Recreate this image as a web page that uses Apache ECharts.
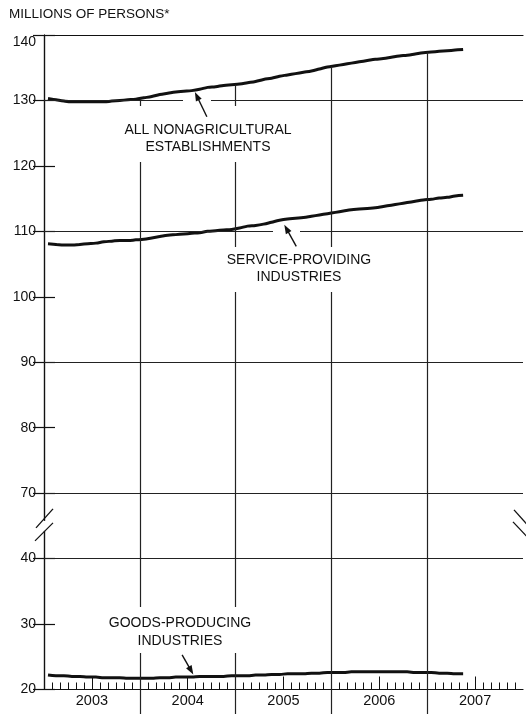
<!DOCTYPE html>
<html><head><meta charset="utf-8">
<script src="https://cdn.jsdelivr.net/npm/echarts@6/dist/echarts.min.js"></script>
<style>html,body{margin:0;padding:0;background:#fff}#c{width:526px;height:714px}</style>
</head><body><div id="c"></div>
<script>
// ---------- data ----------
const yearLabels = ['2003', '2004', '2005', '2006', '2007'];
const monthLabels = [];
for (let y = 2003; y <= 2007; y++) for (let m = 1; m <= 12; m++) monthLabels.push(y + '-' + (m < 10 ? '0' : '') + m);
// monthly values, Jan 2003 .. May 2007 (millions of persons)
const allNonag = [
  130.3, 130.1, 129.9, 129.8, 129.8, 129.8, 129.8, 129.8, 129.9, 130.0, 130.1, 130.2,
  130.4, 130.6, 130.9, 131.1, 131.3, 131.4, 131.5, 131.7, 132.0, 132.1, 132.3, 132.4,
  132.5, 132.7, 132.9, 133.2, 133.4, 133.7, 133.9, 134.1, 134.3, 134.5, 134.8, 135.1,
  135.3, 135.5, 135.7, 135.9, 136.1, 136.3, 136.4, 136.6, 136.8, 136.9, 137.1, 137.3,
  137.4, 137.5, 137.6, 137.7, 137.8
];
const serviceProviding = [
  108.1, 108.0, 107.9, 107.9, 108.0, 108.1, 108.2, 108.4, 108.5, 108.6, 108.6, 108.7,
  108.8, 109.0, 109.2, 109.4, 109.5, 109.6, 109.7, 109.8, 110.0, 110.1, 110.2, 110.3,
  110.5, 110.8, 110.9, 111.1, 111.4, 111.7, 111.9, 112.0, 112.1, 112.3, 112.5, 112.7,
  112.9, 113.1, 113.3, 113.4, 113.5, 113.6, 113.8, 114.0, 114.2, 114.4, 114.6, 114.8,
  114.9, 115.1, 115.2, 115.4, 115.5
];
const goodsProducing = [
  22.2, 22.1, 22.1, 22.0, 22.0, 21.9, 21.9, 21.8, 21.8, 21.8, 21.7, 21.7,
  21.7, 21.7, 21.8, 21.8, 21.9, 21.9, 21.9, 22.0, 22.0, 22.0, 22.0, 22.1,
  22.1, 22.1, 22.2, 22.2, 22.3, 22.3, 22.4, 22.4, 22.4, 22.5, 22.5, 22.6,
  22.6, 22.6, 22.7, 22.7, 22.7, 22.7, 22.7, 22.7, 22.7, 22.7, 22.6, 22.6,
  22.6, 22.5, 22.5, 22.4, 22.4
];
const yTickValues = [20, 30, 40, 70, 80, 90, 100, 110, 120, 130, 140];
const gridlineValues = [130, 110, 90, 70, 40];
const yearBoundaries = [12, 24, 36, 48];
const midYears = [6, 18, 30, 42, 54];
// annotation anchors: [month coordinate, value]
const arrowAll = { tail: [20.4, 127.5], tip: [18.9, 131.3] };
const arrowService = { tail: [31.6, 107.7], tip: [30.1, 111.0] };
const arrowGoods = { tail: [17.3, 25.3], tip: [18.7, 22.3] };

// ---------- axis break (40 .. 70 shown as one 10-unit step) ----------
const breakLow = 40, breakHigh = 70;
const BREAK_SHIFT = breakHigh - breakLow - 10;
function toAxis(v) { return v <= breakLow ? v + BREAK_SHIFT : v; }
function fromAxis(t) { return t <= breakLow + BREAK_SHIFT ? t - BREAK_SHIFT : t; }

const FONT = 'Liberation Sans';
const INK = '#111';
const monthTicks = [];
for (let i = 1; i < 60; i++) if (i % 12 !== 0) monthTicks.push(i);

const chart = echarts.init(document.getElementById('c'), null, { renderer: 'canvas' });
const G = { left: 44, right: 3, top: 35, bottom: 24.5, containLabel: false, outerBoundsMode: 'none' };
const hiddenY = (gi) => ({ gridIndex: gi, type: 'value', min: toAxis(20), max: 140, show: false });
const baseX = (gi, pos) => ({ gridIndex: gi, type: 'value', min: 0, max: 60, position: pos, splitLine: { show: false } });

const lineSeries = (name, arr, shift) => ({
  name, type: 'line', xAxisIndex: 0, yAxisIndex: 0,
  data: arr.map((v, i) => [i + 0.5, shift ? toAxis(v) : v]),
  symbol: 'none', smooth: 0.4, silent: true,
  lineStyle: { color: INK, width: 3 }
});

const goods = lineSeries('Goods-producing industries', goodsProducing, true);
goods.markLine = {
  silent: true, symbol: 'none', animation: false,
  label: { show: false },
  lineStyle: { color: '#222', width: 1.2, type: 'solid' },
  emphasis: { disabled: true },
  data: gridlineValues.map(v => ({ yAxis: toAxis(v) })).concat(
    yearBoundaries.map(b => [{ coord: [b, toAxis(20)] }, { coord: [b, (allNonag[b - 1] + allNonag[b]) / 2] }])
  )
};

chart.setOption({
  animation: false,
  backgroundColor: '#fff',
  title: {
    text: 'MILLIONS OF PERSONS*', left: 9, top: 7, padding: 0,
    textStyle: { fontFamily: FONT, fontSize: 13.5, fontWeight: 'normal', color: INK }
  },
  grid: [G, G, G],
  xAxis: [
    Object.assign(baseX(0, 'bottom'), {
      axisLine: { show: true, lineStyle: { color: INK, width: 1.2 } },
      axisTick: { show: true, customValues: yearBoundaries, inside: false, length: 25, lineStyle: { color: '#222', width: 1.2 } },
      axisLabel: {
        customValues: midYears, margin: 4, color: INK, fontFamily: FONT, fontSize: 14.5,
        formatter: v => yearLabels[Math.round((v - 6) / 12)] || ''
      }
    }),
    Object.assign(baseX(0, 'top'), {
      axisLine: { show: true, lineStyle: { color: INK, width: 1.2 } },
      axisTick: { show: false }, axisLabel: { show: false }
    }),
    Object.assign(baseX(1, 'bottom'), {
      axisLine: { show: false },
      axisTick: { show: true, customValues: monthTicks, inside: true, length: 7, lineStyle: { color: INK, width: 1 } },
      axisLabel: { show: false }
    }),
    Object.assign(baseX(2, 'bottom'), {
      axisLine: { show: false },
      axisTick: { show: true, customValues: midYears, inside: true, length: 13, lineStyle: { color: INK, width: 1 } },
      axisLabel: { show: false }
    })
  ],
  yAxis: [
    {
      gridIndex: 0, type: 'value', min: toAxis(20), max: 140, interval: 10, position: 'left',
      axisLine: { show: true, lineStyle: { color: INK, width: 1.2 } },
      axisTick: { show: true, inside: true, length: 11, lineStyle: { color: INK, width: 1.2 } },
      splitLine: { show: false },
      axisLabel: {
        margin: 8, color: INK, fontFamily: FONT, fontSize: 14, verticalAlignMaxLabel: 'top',
        formatter: t => { const r = fromAxis(t); return yTickValues.indexOf(r) >= 0 ? String(r) : ''; }
      }
    },
    {
      gridIndex: 0, type: 'value', min: toAxis(20), max: 140, interval: 10, position: 'right',
      axisLine: { show: true, lineStyle: { color: INK, width: 1.2 } },
      axisTick: { show: true, inside: true, length: 11, lineStyle: { color: INK, width: 1.2 } },
      splitLine: { show: false }, axisLabel: { show: false }
    },
    hiddenY(1), hiddenY(2)
  ],
  series: [
    lineSeries('All nonagricultural establishments', allNonag, false),
    lineSeries('Service-providing industries', serviceProviding, false),
    goods
  ]
});

// ---------- annotations (placed through the chart's own scales) ----------
const px = (p, shift) => chart.convertToPixel({ gridIndex: 0 }, [p[0], shift ? toAxis(p[1]) : p[1]]);
function arrow(a, shift) {
  const t0 = px(a.tail, shift), t1 = px(a.tip, shift);
  const dx = t1[0] - t0[0], dy = t1[1] - t0[1], L = Math.hypot(dx, dy);
  const ux = dx / L, uy = dy / L, hl = 9, hw = 3.2;
  const bx = t1[0] - ux * hl, by = t1[1] - uy * hl;
  return [
    { type: 'line', z: 11, silent: true, shape: { x1: t0[0], y1: t0[1], x2: bx + ux * 2, y2: by + uy * 2 }, style: { stroke: INK, lineWidth: 1.4 } },
    { type: 'polygon', z: 11, silent: true, shape: { points: [[t1[0], t1[1]], [bx - uy * hw, by + ux * hw], [bx + uy * hw, by - ux * hw]] }, style: { fill: INK } }
  ];
}
const mask = (x, y, w, h) => ({ type: 'rect', z: 10, silent: true, shape: { x, y, width: w, height: h }, style: { fill: '#fff' } });
const label = (text, x, y) => ({
  type: 'text', z: 12, silent: true, x, y,
  style: { text, fill: INK, font: '14px "' + FONT + '"', align: 'center', verticalAlign: 'middle', lineHeight: 17.5 }
});
const p130 = px([0, 130]), p110 = px([0, 110]);
const breakMid = (px([0, toAxis(breakLow)])[1] + px([0, breakHigh])[1]) / 2;
const leftX = px([0, 130])[0], rightX = px([60, 130])[0];

const graphic = [
  mask(116, 106, 184, 56),
  mask(222, 247, 154, 45),
  mask(97, 607, 166, 46),
  mask(183, p130[1] - 2.5, 28, 5),
  mask(273, p110[1] - 2.5, 27, 5),
  mask(leftX - 3, breakMid - 5, 6, 10),
  mask(rightX - 3, breakMid - 6, 6, 10),
  label('ALL NONAGRICULTURAL\nESTABLISHMENTS', 208, 138.5),
  label('SERVICE-PROVIDING\nINDUSTRIES', 299, 268.5),
  label('GOODS-PRODUCING\nINDUSTRIES', 180, 632),
  { type: 'line', z: 12, silent: true, shape: { x1: leftX - 8, y1: breakMid + 2, x2: leftX + 9, y2: breakMid - 17 }, style: { stroke: INK, lineWidth: 1.3 } },
  { type: 'line', z: 12, silent: true, shape: { x1: leftX - 9, y1: breakMid + 15, x2: leftX + 9, y2: breakMid - 3 }, style: { stroke: INK, lineWidth: 1.3 } },
  { type: 'line', z: 12, silent: true, shape: { x1: rightX - 9, y1: breakMid - 16, x2: rightX + 8, y2: breakMid + 3 }, style: { stroke: INK, lineWidth: 1.3 } },
  { type: 'line', z: 12, silent: true, shape: { x1: rightX - 10, y1: breakMid - 4, x2: rightX + 8, y2: breakMid + 15 }, style: { stroke: INK, lineWidth: 1.3 } }
].concat(arrow(arrowAll, false), arrow(arrowService, false), arrow(arrowGoods, true));

chart.setOption({ graphic });
</script>
</body></html>
